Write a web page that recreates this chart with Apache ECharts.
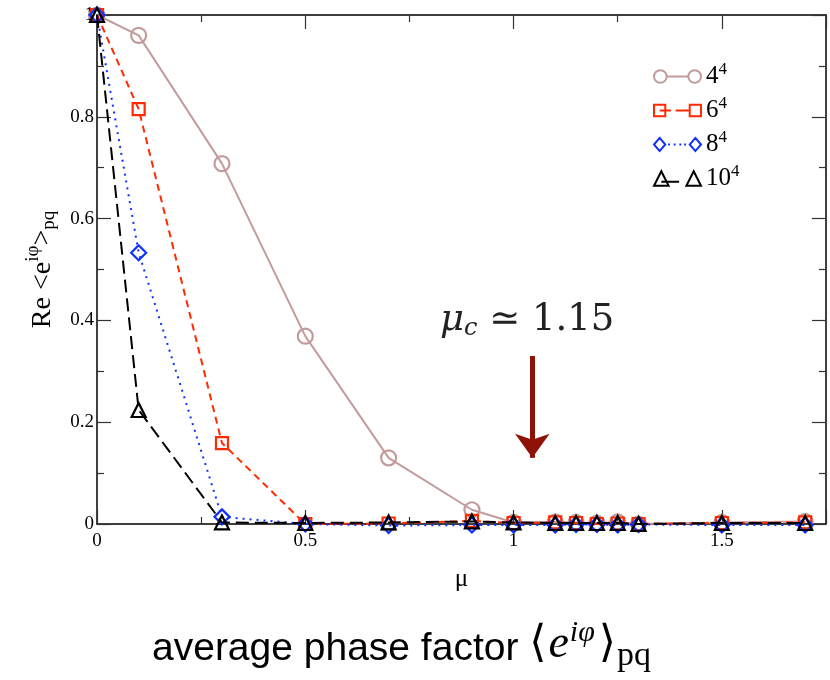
<!DOCTYPE html>
<html><head><meta charset="utf-8">
<script src="https://cdn.jsdelivr.net/npm/echarts@6/dist/echarts.min.js"></script>
<style>html,body{margin:0;padding:0;background:#fff}#c{width:830px;height:680px}</style>
</head><body><div id="c"></div>
<script>
const mu   = [0, 0.1, 0.3, 0.5, 0.7, 0.9, 1.0, 1.1, 1.15, 1.2, 1.25, 1.3, 1.5, 1.7];
const s4   = [1.0, 0.96, 0.708, 0.369, 0.13, 0.028, 0.003, 0.004, 0.003, 0.002, 0.004, 0.0, 0.003, 0.005];
const s6   = [1.0, 0.815, 0.159, 0.0, 0.001, 0.006, 0.002, 0.003, 0.002, 0.0, 0.001, 0.0, 0.002, 0.003];
const s8   = [1.0, 0.533, 0.014, 0.0, -0.003, -0.002, -0.002, -0.002, -0.001, -0.001, -0.002, -0.001, -0.002, -0.002];
const s10  = [1.0, 0.224, 0.003, 0.002, 0.003, 0.005, 0.003, 0.002, 0.002, 0.002, 0.002, 0.0, 0.002, 0.002];
const seriesNames = ['4', '6', '8', '10'];
const xTicks = [0, 0.5, 1, 1.5];
const yTicks = [0, 0.2, 0.4, 0.6, 0.8, 1];
const arrowMu = 1.045, arrowTop = 0.33, arrowBottom = 0.13;

const pair = a => mu.map((m, i) => [m, a[i]]);
const serif = 'Liberation Serif';
const chart = echarts.init(document.getElementById('c'));

// legend icons: symbol - line - symbol (52 x 16 box)
const icons = [
  'path://M0,8a7,7 0 1,0 14,0a7,7 0 1,0 -14,0M14,8L38,8M38,8a7,7 0 1,0 14,0a7,7 0 1,0 -14,0',
  'path://M1,2L13,2L13,14L1,14ZM7,8L19,8M24,8L38,8M39,2L51,2L51,14L39,14Z',
  'path://M7,1L13,8L7,15L1,8ZM16,8L18,8M22,8L24,8M28,8L30,8M33,8L35,8M45,1L51,8L45,15L39,8Z',
  'path://M7,1L14,15L0,15ZM7,11L24,11M38,1L45,15L31,15Z'
];

function mk(name, data, color, symbol, size, type, z) {
  return {
    name: name, type: 'line', data: pair(data), z: z,
    symbol: symbol, symbolSize: size, clip: false,
    lineStyle: { color: color, width: 2, type: type },
    itemStyle: { color: 'rgba(0,0,0,0)', borderColor: color, borderWidth: 2.2 },
    emphasis: { disabled: true }
  };
}
function axis(extra) {
  return Object.assign({
    type: 'value',
    axisLine: { show: true, onZero: false, lineStyle: { color: '#000', width: 1.5 } },
    axisTick: { show: true, inside: true, length: 14, lineStyle: { color: '#333', width: 1.2 } },
    minorTick: { show: true, splitNumber: 2, length: 7, lineStyle: { color: '#333', width: 1.2 } },
    splitLine: { show: false }
  }, extra);
}
const s_4 = mk(seriesNames[0], s4, '#c29c9c', 'circle', 15, 'solid', 2);
s_4.markLine = {
  silent: true, symbol: ['none', 'arrow'], symbolSize: [26, 24],
  lineStyle: { color: '#8e1205', width: 5, type: 'solid' }, label: { show: false },
  data: [[{ coord: [arrowMu, arrowTop] }, { coord: [arrowMu, arrowBottom] }]]
};
chart.setOption({
  animation: false,
  grid: { left: 97, right: 4, top: 15, bottom: 156, containLabel: false },
  xAxis: [
    axis({
      min: 0, max: 1.75, interval: 0.5, position: 'bottom',
      axisLabel: { color: '#000', fontFamily: serif, fontSize: 19, margin: 8,
        formatter: v => xTicks.includes(v) ? String(v) : '' , showMaxLabel: false },
      name: 'μ', nameLocation: 'middle', nameGap: 43,
      nameTextStyle: { fontFamily: serif, fontSize: 25, color: '#000' }
    }),
    axis({ min: 0, max: 1.75, interval: 0.5, position: 'top', axisLabel: { show: false } })
  ],
  yAxis: [
    axis({
      min: 0, max: 1, interval: 0.2, position: 'left',
      axisLabel: { color: '#000', fontFamily: serif, fontSize: 19, margin: 3,
        formatter: v => yTicks.includes(+v.toFixed(1)) ? String(+v.toFixed(1)) : '' },
      name: '{a|Re <e}{sup|iφ}{a|>}{sub|pq}', nameLocation: 'middle', nameGap: 36, nameRotate: 90,
      nameTextStyle: { color: '#000', rich: {
        a: { fontFamily: serif, fontSize: 28, color: '#000' },
        sup: { fontFamily: serif, fontSize: 19, color: '#000', padding: [0, 0, 18, 0] },
        sub: { fontFamily: serif, fontSize: 19, color: '#000', padding: [14, 0, 0, 0] } } }
    }),
    axis({ min: 0, max: 1, interval: 0.2, position: 'right', axisLabel: { show: false } })
  ],
  legend: {
    orient: 'vertical', left: 648, top: 56, itemWidth: 47, itemHeight: 15, itemGap: 6,
    data: seriesNames.map((n, i) => ({ name: n, icon: icons[i] })),
    formatter: n => '{b|' + n + '}{sup|4}',
    textStyle: { color: '#000', rich: {
      b: { fontFamily: serif, fontSize: 25, color: '#000' },
      sup: { fontFamily: serif, fontSize: 17, color: '#000', padding: [0, 0, 14, 0] } } }
  },
  series: [
    s_4,
    mk(seriesNames[1], s6, '#ff2a00', 'rect', 12, [7, 5], 3),
    mk(seriesNames[2], s8, '#1030ff', 'diamond', 15, [2, 5], 4),
    mk(seriesNames[3], s10, '#000000', 'triangle', 14, [13, 6], 5)
  ],
  graphic: [
    { type: 'text', left: 440, top: 302, style: {
      text: '{m|μ}{c|c}{t| ≃ 1.15}', rich: {
        m: { fontFamily: 'DejaVu Serif', fontStyle: 'italic', fontSize: 37, fill: '#222' },
        c: { fontFamily: 'DejaVu Serif', fontStyle: 'italic', fontSize: 24, fill: '#222', padding: [16, 0, 0, 0] },
        t: { fontFamily: 'DejaVu Serif', fontSize: 37, fill: '#222' } } } },
    { type: 'text', left: 152, top: 618, style: {
      text: '{s|average phase factor }{m|⟨}{e|e}{sup|iφ}{m|⟩}{sub|pq}', rich: {
        s: { fontFamily: 'Liberation Sans', fontSize: 39, fill: '#000', padding: [8, 0, 0, 0] },
        m: { fontFamily: 'DejaVu Serif', fontSize: 44, fill: '#000' },
        e: { fontFamily: 'Liberation Serif', fontStyle: 'italic', fontSize: 46, fill: '#000', padding: [0, 0, 0, 2] },
        sup: { fontFamily: 'Liberation Serif', fontStyle: 'italic', fontSize: 30, fill: '#000', padding: [0, 4, 24, 1] },
        sub: { fontFamily: 'Liberation Serif', fontSize: 34, fill: '#000', padding: [22, 0, 0, 1] } } } }
  ]
});
</script></body></html>
